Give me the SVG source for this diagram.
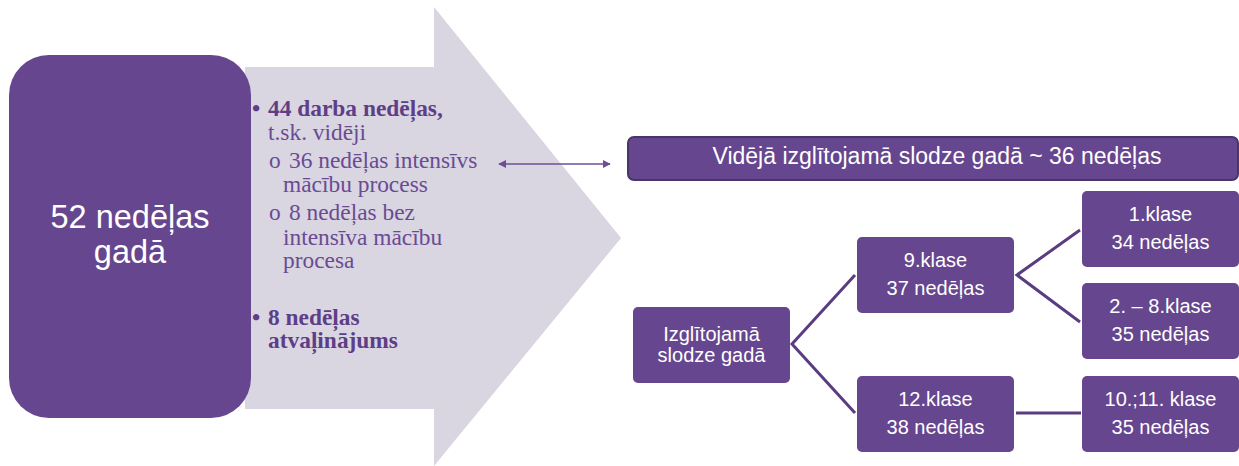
<svg xmlns="http://www.w3.org/2000/svg" width="1239" height="466" viewBox="0 0 1239 466">
<defs>
<style>
.box{fill:#66468e;}
.wt{font-family:"Liberation Sans",Arial,sans-serif;fill:#ffffff;text-anchor:middle;}
.tr{font-size:20px;}
.sf{font-family:"Liberation Serif","Times New Roman",serif;font-size:23.4px;fill:#6a4b93;}
.b{font-weight:bold;fill:#5e3e86;}
.conn{stroke:#5a3c80;stroke-width:3;fill:none;}
</style>
<marker id="ah" viewBox="0 0 10 10" refX="9" refY="5" markerWidth="8" markerHeight="8" markerUnits="userSpaceOnUse" orient="auto-start-reverse">
<path d="M0,0 L10,5 L0,10 z" fill="#6d4f96"/>
</marker>
</defs>
<rect width="1239" height="466" fill="#ffffff"/>
<g id="arrow">
<polygon points="245,67 434,67 434,7 621,238 434,466 434,409 245,409" fill="#d9d5e1"/>
</g>
<g id="year">
<rect class="box" x="9" y="55" width="242" height="363" rx="40" ry="40"/>
<text class="wt" x="130" y="228" font-size="32.5">52 nedēļas</text>
<text class="wt" x="130" y="263" font-size="32.5">gadā</text>
</g>
<g id="list">
<text class="sf b" x="252" y="116">•</text>
<text class="sf b" x="268" y="116">44 darba nedēļas,</text>
<text class="sf" x="268" y="140">t.sk. vidēji</text>
<text class="sf" x="269" y="168">o</text>
<text class="sf" x="289" y="168">36 nedēļas intensīvs</text>
<text class="sf" x="283" y="192">mācību process</text>
<text class="sf" x="269" y="220">o</text>
<text class="sf" x="289" y="220">8 nedēļas bez</text>
<text class="sf" x="283" y="245">intensīva mācību</text>
<text class="sf" x="283" y="268">procesa</text>
<text class="sf b" x="252" y="325">•</text>
<text class="sf b" x="268" y="325">8 nedēļas</text>
<text class="sf b" x="268" y="348">atvaļinājums</text>
</g>
<g id="avg">
<rect x="628" y="137" width="610" height="43" rx="6" ry="6" fill="#66468e" stroke="#4a3468" stroke-width="2"/>
<text class="wt" x="937" y="164" font-size="23">Vidējā izglītojamā slodze gadā ~ 36 nedēļas</text>
</g>
<g id="load">
<rect class="box" x="633" y="307" width="157" height="76" rx="5"/>
<text class="wt tr" x="711.5" y="341">Izglītojamā</text>
<text class="wt tr" x="711.5" y="362">slodze gadā</text>
</g>
<g id="k9">
<rect class="box" x="857" y="237" width="157" height="76" rx="5"/>
<text class="wt tr" x="935.5" y="267">9.klase</text>
<text class="wt tr" x="935.5" y="295">37 nedēļas</text>
</g>
<g id="k12">
<rect class="box" x="857" y="376" width="157" height="76" rx="5"/>
<text class="wt tr" x="935.5" y="406">12.klase</text>
<text class="wt tr" x="935.5" y="434">38 nedēļas</text>
</g>
<g id="k1">
<rect class="box" x="1082" y="191" width="157" height="76" rx="5"/>
<text class="wt tr" x="1160.5" y="221">1.klase</text>
<text class="wt tr" x="1160.5" y="249">34 nedēļas</text>
</g>
<g id="k2_8">
<rect class="box" x="1082" y="283" width="157" height="76" rx="5"/>
<text class="wt tr" x="1160.5" y="313">2. – 8.klase</text>
<text class="wt tr" x="1160.5" y="341">35 nedēļas</text>
</g>
<g id="k10_11">
<rect class="box" x="1082" y="376" width="157" height="76" rx="5"/>
<text class="wt tr" x="1160.5" y="406">10.;11. klase</text>
<text class="wt tr" x="1160.5" y="434">35 nedēļas</text>
</g>
<g id="connectors">
<line x1="499" y1="164" x2="610" y2="164" stroke="#6d4f96" stroke-width="1.5" marker-start="url(#ah)" marker-end="url(#ah)"/>
<polyline class="conn" points="855,275 792,344 855,413"/>
<polyline class="conn" points="1080,230 1017,275 1080,322"/>
<line class="conn" x1="1016" y1="413" x2="1081" y2="413"/>
</g>
</svg>
